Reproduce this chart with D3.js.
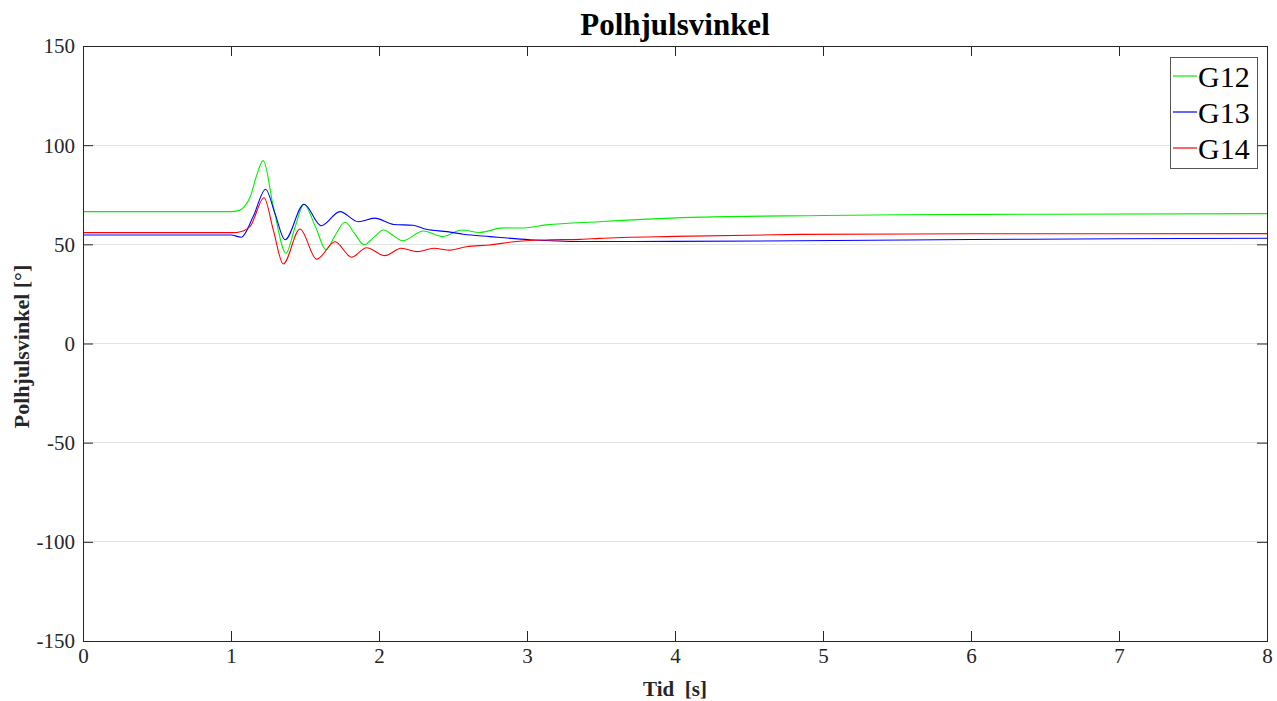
<!DOCTYPE html>
<html>
<head>
<meta charset="utf-8">
<script src="https://cdn.jsdelivr.net/npm/d3@7"></script>
<style>
  html, body { margin: 0; padding: 0; background: #fff; }
  svg { display: block; }
  svg text { font-family: "Liberation Serif", "Times New Roman", serif; }
</style>
</head>
<body>
<svg id="chart" width="1277" height="701"></svg>
<script>
// ---- Data ----
const xTicks = [0, 1, 2, 3, 4, 5, 6, 7, 8];
const yTicks = [-150, -100, -50, 0, 50, 100, 150];
const seriesNames = ["G12", "G13", "G14"];
const seriesColors = ["#00ee00", "#0000ff", "#ff0000"];

const g12Time = [0, 1.0, 1.05, 1.13, 1.17, 1.218, 1.286, 1.372, 1.43, 1.493, 1.57, 1.642, 1.70, 1.77, 1.835, 1.899, 1.965, 2.03, 2.095, 2.16, 2.30, 2.43, 2.56, 2.68, 2.84, 2.97, 3.13, 3.49, 4.17, 5.0, 5.52, 6.5, 8.0];
const g12Vals = [66.5, 66.5, 67, 74, 84, 92.2, 69, 45.5, 58, 70.2, 59, 47.3, 54, 61.1, 55.5, 49.8, 53.5, 57.2, 54.5, 51.8, 56.7, 53.9, 57.2, 56, 58.3, 58.2, 59.8, 61.4, 63.7, 64.5, 64.9, 65.2, 65.5];

const g13Time = [0, 1.0, 1.07, 1.15, 1.234, 1.297, 1.365, 1.493, 1.61, 1.736, 1.86, 1.97, 2.10, 2.23, 2.32, 2.46, 2.57, 2.75, 3.02, 3.36, 4.0, 4.84, 6.0, 7.0, 8.0];
const g13Vals = [54.7, 54.7, 53.6, 64, 77.8, 65.6, 52.3, 70.2, 59.4, 66.5, 61.4, 63.2, 60, 59.6, 57.6, 56.4, 55.1, 53.9, 52.3, 51.4, 51.5, 51.8, 52.4, 52.8, 53.1];

const g14Time = [0, 1.0, 1.04, 1.128, 1.223, 1.286, 1.353, 1.466, 1.579, 1.703, 1.815, 1.916, 2.04, 2.15, 2.26, 2.37, 2.48, 2.59, 2.75, 2.91, 3.13, 3.36, 3.49, 4.0, 4.84, 6.0, 8.0];
const g14Vals = [55.9, 55.9, 56, 58.9, 73.5, 57.2, 40.1, 57.7, 42.5, 51.3, 43.5, 48.3, 44.3, 48, 46.3, 48, 47.1, 48.8, 49.7, 51.3, 52.2, 52.5, 53, 54, 55, 55.3, 55.4];

// ---- Layout ----
const FONT = "Liberation Serif, Times New Roman, serif";
const margin = { left: 83, top: 46 };
const plotW = 1267 - margin.left;
const plotH = 641 - margin.top;

const svg = d3.select("#chart");
const g = svg.append("g").attr("transform", `translate(${margin.left},${margin.top})`);

const x = d3.scaleLinear().domain([0, 8]).range([0, plotW]);
const y = d3.scaleLinear().domain([-150, 150]).range([plotH, 0]);

// Grid lines (horizontal only)
g.append("g").selectAll("line").data(yTicks).join("line")
  .attr("x1", 0).attr("x2", plotW)
  .attr("y1", d => y(d)).attr("y2", d => y(d))
  .attr("stroke", "#e3e3e3").attr("stroke-width", 1).attr("shape-rendering", "crispEdges");

// Lines
const series = [
  { name: seriesNames[0], color: seriesColors[0], t: g12Time, v: g12Vals },
  { name: seriesNames[1], color: seriesColors[1], t: g13Time, v: g13Vals },
  { name: seriesNames[2], color: seriesColors[2], t: g14Time, v: g14Vals }
];
const line = d3.line().x(d => x(d[0])).y(d => y(d[1])).curve(d3.curveMonotoneX);
g.append("clipPath").attr("id", "clip").append("rect").attr("width", plotW).attr("height", plotH);
g.append("g").attr("clip-path", "url(#clip)").selectAll("path").data(series).join("path")
  .attr("d", s => line(s.t.map((t, i) => [t, s.v[i]])))
  .attr("fill", "none").attr("stroke", s => s.color).attr("stroke-width", 1.1);

// Axes
const axisColor = "#262626";
const tickLen = 10;
const xAxis = g.append("g").attr("transform", `translate(0,${plotH})`)
  .call(d3.axisBottom(x).tickValues(xTicks).tickSize(-tickLen).tickFormat(d3.format("d")));
const xAxisTop = g.append("g")
  .call(d3.axisTop(x).tickValues(xTicks).tickSize(-tickLen).tickFormat(""));
const yAxis = g.append("g")
  .call(d3.axisLeft(y).tickValues(yTicks).tickSize(-tickLen).tickPadding(8).tickFormat(d => d < 0 ? "-" + Math.abs(d) : String(d)));
const yAxisRight = g.append("g").attr("transform", `translate(${plotW},0)`)
  .call(d3.axisRight(y).tickValues(yTicks).tickSize(-tickLen).tickFormat(""));

[xAxis, xAxisTop, yAxis, yAxisRight].forEach(a => {
  a.attr("font-family", FONT).attr("font-size", 21);
  a.select(".domain").remove();
  a.selectAll(".tick line").attr("stroke", axisColor).attr("stroke-width", 1);
  a.selectAll("text").attr("fill", "#262626").attr("font-family", FONT).attr("font-size", 21);
});
xAxis.selectAll("text").attr("y", 7).attr("dy", "0.71em");
yAxis.selectAll("text").attr("x", -8).attr("dy", "0.33em");

// Box
g.append("rect").attr("x", 0).attr("y", 0).attr("width", plotW).attr("height", plotH)
  .attr("fill", "none").attr("stroke", axisColor).attr("stroke-width", 1).attr("shape-rendering", "crispEdges");

// Title
svg.append("text").attr("x", margin.left + plotW / 2).attr("y", 35)
  .attr("text-anchor", "middle").attr("font-family", FONT).attr("font-size", 31).attr("font-weight", "bold").attr("fill", "#000")
  .text("Polhjulsvinkel");

// X label
svg.append("text").attr("x", margin.left + plotW / 2).attr("y", 696)
  .attr("text-anchor", "middle").attr("font-family", FONT).attr("font-size", 21).attr("font-weight", "bold").attr("fill", "#262626")
  .style("white-space", "pre").attr("xml:space", "preserve")
  .text("Tid  [s]");

// Y label
svg.append("text").attr("transform", `translate(29,${margin.top + plotH / 2 + 3}) rotate(-90)`)
  .attr("text-anchor", "middle").attr("font-family", FONT).attr("font-size", 22).attr("font-weight", "bold").attr("fill", "#262626")
  .text("Polhjulsvinkel [°]");

// Legend
const lg = svg.append("g").attr("transform", "translate(1170,57)");
lg.append("rect").attr("x", 0).attr("y", 0).attr("width", 87).attr("height", 111)
  .attr("fill", "#fff").attr("stroke", "#555").attr("stroke-width", 1).attr("shape-rendering", "crispEdges");
const items = lg.selectAll("g.item").data(series).join("g").attr("class", "item")
  .attr("transform", (d, i) => `translate(0,${19 + i * 36})`);
items.append("line").attr("x1", 3).attr("x2", 27).attr("y1", 0).attr("y2", 0)
  .attr("stroke", d => d.color).attr("stroke-width", 1.2);
items.append("text").attr("x", 28).attr("y", 10.5)
  .attr("font-family", FONT).attr("font-size", 30).attr("fill", "#000").text(d => d.name);
</script>
</body>
</html>
